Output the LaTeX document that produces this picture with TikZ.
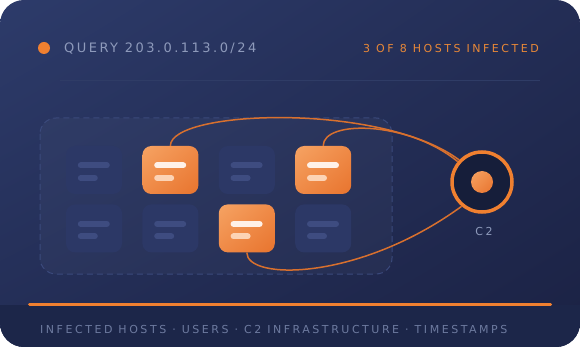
\documentclass[tikz,border=0pt]{standalone}
\usepackage{fontspec}
\setmainfont{DejaVu Sans}
\newfontfamily\wideA[LetterSpace=19]{DejaVu Sans}
\newfontfamily\wideB[LetterSpace=23]{DejaVu Sans}
\usetikzlibrary{positioning,shadings}
\definecolor{cardA}{HTML}{2D3B6A}
\definecolor{cardB}{HTML}{232D55}
\definecolor{cardC}{HTML}{1B2244}
\definecolor{stripbg}{HTML}{1C2649}
\definecolor{tileoff}{HTML}{2C3866}
\definecolor{baroff}{HTML}{3E4C80}
\definecolor{onA}{HTML}{F6A363}
\definecolor{onB}{HTML}{EF8A47}
\definecolor{onC}{HTML}{E8742E}
\definecolor{bartop}{HTML}{FFF1E8}
\definecolor{barbot}{HTML}{FCD3B5}
\definecolor{ringfill}{HTML}{161E3A}
\definecolor{accent}{HTML}{F08030}
\definecolor{linkc}{HTML}{D8702E}
\definecolor{muted}{HTML}{8E9ABB}
\definecolor{footc}{HTML}{6D7A9F}
\definecolor{sepc}{HTML}{2F3C66}
\definecolor{dashc}{HTML}{3B4A7C}
\definecolor{alertc}{HTML}{E88838}

\begin{document}
\begin{tikzpicture}[x=1pt,y=-1pt,
    hostoff/.style={fill=tileoff, rounded corners=9pt, minimum width=56pt, minimum height=48pt, inner sep=0pt},
    hoston/.style={hostoff, upper left=onA, upper right=onB, lower left=onB, lower right=onC},
    baroff/.style={draw=baroff, line width=6pt, line cap=round},
    baron/.style={draw=bartop, line width=6pt, line cap=round},
    barlowoff/.style={draw=baroff, line width=6pt, line cap=round},
    barlowon/.style={draw=barbot, line width=6pt, line cap=round},
    link/.style={draw=linkc, line width=1.5pt},
    muted text/.style={text=muted, font=\wideB\fontsize{11}{13}\selectfont, inner sep=0pt}]
    \useasboundingbox (0,0) rectangle (580,347);

    % card background
    \begin{scope}
        \clip[rounded corners=24pt] (0,0) rectangle (580,347);
        \shade[upper left=cardA, upper right=cardB, lower left=cardB, lower right=cardC] (0,0) rectangle (580,347);
        \fill[stripbg] (0,305) rectangle (580,347);
    \end{scope}

    % header
    \node[circle, fill=accent, minimum size=12pt, inner sep=0pt] (qdot) at (44,48) {};
    \node[text=muted, font=\wideA\fontsize{13}{15}\selectfont, inner sep=0pt, anchor=base west] (query) at (64,53) {QUERY 203.0.113.0/24};
    \node[text=alertc, font=\wideB\fontsize{11}{13}\selectfont, inner sep=0pt, anchor=base west] (infected) at (363,53) {3 OF 8 HOSTS INFECTED};
    \draw[sepc, line width=1pt] (60,80.5) -- (540,80.5);

    % host group
    \draw[dashc, line width=1pt, dash pattern=on 6pt off 4pt, fill=white, fill opacity=0.03, rounded corners=16pt] (40,118) rectangle (392,274);

    \node[hostoff] (h1) at (94,170) {};
    \node[hoston, right=20pt of h1] (h2) {};
    \node[hostoff, right=20pt of h2] (h3) {};
    \node[hoston, right=20pt of h3] (h4) {};
    \node[hostoff, below=10pt of h1] (h5) {};
    \node[hostoff, right=20pt of h5] (h6) {};
    \node[hoston, right=20pt of h6] (h7) {};
    \node[hostoff, right=20pt of h7] (h8) {};

    \foreach \h/\s in {h1/off, h2/on, h3/off, h4/on, h5/off, h6/off, h7/on, h8/off} {
        \draw[bar\s] ([shift={(15,-4.5)}]\h.west) -- ++(26,0);
        \draw[barlow\s] ([shift={(15,8)}]\h.west) -- ++(14,0);
    }

    % C2 server
    \node[circle, draw=accent, line width=3.5pt, fill=ringfill, minimum size=60pt, inner sep=0pt] (c2) at (482,182) {};
    \node[muted text, anchor=base] (c2lbl) at (484,236) {C2};

    % infections
    \draw[link] (h2.north) .. controls +(0,-36) and +(-78,-58) .. (c2.136);
    \draw[link] (h4.north) .. controls +(0,-26) and +(-50,-41) .. (c2.140);
    \draw[link] (h7.south) .. controls +(0,28) and +(-103,75) .. (c2.230);
    \node[circle, minimum size=22pt, inner sep=0pt, upper left=onA, upper right=onB, lower left=onB, lower right=onC] (c2core) at (c2) {};

    % footer
    \draw[accent, line width=3pt, line cap=round] (29.5,304) -- (550.5,304);
    \node[text=footc, font=\wideB\fontsize{11}{13}\selectfont, inner sep=0pt, anchor=base west] (legend) at (40,333) {INFECTED HOSTS · USERS · C2 INFRASTRUCTURE · TIMESTAMPS};
\end{tikzpicture}
\end{document}
